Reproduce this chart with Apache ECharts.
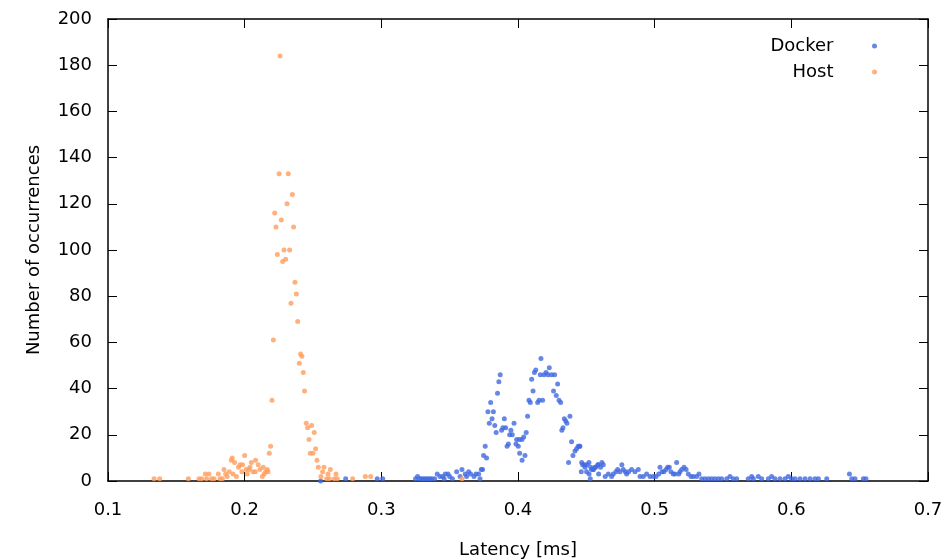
<!DOCTYPE html>
<html><head><meta charset="utf-8">
<script src="https://cdn.jsdelivr.net/npm/echarts@6/dist/echarts.min.js"></script>
<style>html,body{margin:0;padding:0;background:#fff}#c{width:949px;height:560px}</style>
</head><body><div id="c"></div>
<script>
const seriesNames = ['Docker', 'Host'];
const xTicks = [0.1, 0.2, 0.3, 0.4, 0.5, 0.6, 0.7];
const yTicks = [0, 20, 40, 60, 80, 100, 120, 140, 160, 180, 200];

const hostData = [
[0.1337,1],[0.1378,1],[0.1588,1],[0.1666,1],[0.1685,1],[0.1712,3],[0.1721,1],[0.1739,3],[0.1758,1],[0.1776,1],
[0.1807,3],[0.1820,1],[0.1837,1],[0.1849,5],[0.1861,3],[0.1872,2],[0.1887,4],[0.1902,9],[0.1909,10],[0.1915,3],
[0.1926,8],[0.1939,2],[0.1955,6],[0.1966,7],[0.198,4],[0.1985,7],[0.2,11],[0.2011,5],[0.2019,3],[0.2032,5],
[0.2039,6],[0.2049,8],[0.2061,4],[0.2078,4],[0.208,9],[0.2099,7],[0.2112,5],[0.2129,2],[0.2136,6],[0.2143,3],
[0.2154,4],[0.2166,5],[0.2171,4],[0.218,12],[0.219,15],[0.22,35],[0.221,61],[0.222,116],[0.2229,110],[0.2239,98],
[0.2252,133],[0.2259,184],[0.2268,113],[0.2278,95],[0.2288,100],[0.23,96],[0.231,120],[0.2319,133],[0.2329,100],[0.2339,77],
[0.2349,124],[0.2358,110],[0.2368,86],[0.2378,81],[0.2388,69],[0.24,51],[0.2409,55],[0.2419,54],[0.2429,47],[0.2438,39],
[0.2451,25],[0.2461,23],[0.2471,18],[0.248,12],[0.249,24],[0.25,12],[0.2509,21],[0.2519,14],[0.2529,9],[0.2539,6],
[0.2558,2],[0.257,4],[0.258,6],[0.26,1],[0.261,3],[0.2619,1],[0.2627,5],[0.2656,1],[0.2668,3],[0.2678,1],
[0.279,1],[0.2883,2],[0.2922,2],[0.359,1]
];

const dockerData = [
[0.2556,0],[0.2739,1],[0.297,1],[0.301,1],
[0.325,1],[0.3265,2],[0.328,1],[0.3295,1],[0.331,1],[0.3325,1],[0.334,1],[0.3355,1],[0.337,1],[0.339,1],
[0.3409,3],[0.3429,2],[0.3449,2],[0.3468,3],[0.3488,3],[0.35,2],[0.346,1],[0.352,1],
[0.3551,4],[0.3576,2],[0.359,5],[0.3614,3],[0.3624,2],[0.3639,4],[0.3653,3],[0.3678,2],[0.3692,3],[0.3712,3],[0.3722,1],[0.3731,5],[0.3741,5],
[0.3748,11],[0.376,15],[0.377,10],[0.378,30],[0.379,25],[0.38,34],[0.381,27],[0.382,30],[0.383,24],[0.384,21],
[0.385,38],[0.386,43],[0.387,46],[0.388,22],[0.389,23],[0.39,27],[0.391,23],[0.392,15],[0.393,16],
[0.3939,20],[0.3948,22],[0.3958,20],[0.3971,25],[0.3985,16],[0.399,18],[0.4002,15],[0.401,18],[0.4012,12],[0.4029,18],[0.403,9],[0.4042,19],[0.4051,11],
[0.406,21],[0.407,28],[0.408,35],[0.409,34],[0.41,44],[0.411,39],[0.412,47],[0.413,48],[0.4144,34],[0.4154,35],[0.4163,46],[0.4168,53],[0.418,35],
[0.419,46],[0.4205,47],[0.422,46],[0.4229,49],[0.4246,46],[0.426,39],[0.4268,46],[0.428,37],[0.429,42],[0.43,35],[0.4312,34],
[0.4321,22],[0.4329,23],[0.4339,27],[0.4349,26],[0.4358,25],[0.437,8],[0.438,28],[0.4392,17],[0.4402,11],[0.4417,13],[0.4429,14],[0.444,15],[0.445,15],
[0.4453,15],[0.4463,4],[0.4466,8],[0.4473,7],[0.4487,7],[0.449,6],[0.4502,4],[0.4506,7],[0.4519,8],[0.452,3],[0.4529,1],[0.4533,6],[0.4538,5],[0.455,5],[0.4552,5],
[0.4565,6],[0.4567,6],[0.4585,7],[0.4586,7],[0.459,3],[0.4604,6],[0.4614,8],[0.4624,7],
[0.4638,2],[0.4661,3],[0.4685,2],[0.4697,3],[0.4717,4],[0.4729,5],[0.4746,4],[0.476,7],[0.477,5],[0.4785,4],[0.4795,3],[0.481,4],[0.4831,5],[0.4856,4],[0.488,5],
[0.4893,2],[0.4917,2],[0.4941,3],[0.4966,2],[0.499,2],[0.501,2],[0.503,3],[0.5039,6],[0.5054,4],[0.5068,4],[0.5083,5],[0.5095,6],[0.5107,6],[0.5119,4],[0.5136,3],
[0.5149,3],[0.5161,8],[0.5176,3],[0.5185,4],[0.5198,5],[0.5215,6],[0.523,5],[0.5246,3],[0.5266,2],[0.5283,2],[0.5307,2],[0.5324,3],[0.5344,1],[0.5368,1],[0.5393,1],
[0.5417,1],[0.5441,1],[0.5466,1],[0.549,1],[0.5527,1],[0.5551,2],[0.5575,1],[0.56,1],[0.5685,1],[0.571,2],[0.5722,1],[0.5758,2],[0.5783,1],[0.5832,1],[0.5856,2],
[0.588,1],[0.5917,1],[0.5954,1],[0.5978,2],[0.6002,1],[0.6027,1],[0.6063,1],[0.61,1],[0.6137,1],[0.6173,1],[0.6198,1],[0.6259,1],[0.6425,3],[0.6442,1],[0.6466,1],[0.6527,1],[0.6546,1]
];

const colors = {Docker: '#4169e1', Host: '#ff9d5c'};
const FONT = 'DejaVu Sans';
const FS = 18;
const chart = echarts.init(document.getElementById('c'), null, {renderer: 'canvas'});

function axisCommon() {
  return {
    axisLine: {show: true, onZero: false, lineStyle: {color: '#000', width: 1.5}},
    axisTick: {show: true, inside: true, length: 9, lineStyle: {color: '#000', width: 1}},
    splitLine: {show: false},
    axisLabel: {color: '#000', fontFamily: FONT, fontSize: FS}
  };
}

chart.setOption({
  animation: false,
  backgroundColor: '#fff',
  grid: {left: 108, right: 21, top: 19, bottom: 79, containLabel: false, outerBoundsMode: 'none'},
  legend: {
    right: 67, top: 32, orient: 'vertical', align: 'right', itemGap: 8,
    itemWidth: 10, itemHeight: 5, padding: 5,
    textStyle: {fontFamily: FONT, fontSize: FS, color: '#000', padding: [0, 31, 0, 0]},
    data: seriesNames.map(n => ({name: n, icon: 'circle'}))
  },
  xAxis: [
    Object.assign(axisCommon(), {
      type: 'value', min: xTicks[0], max: xTicks[xTicks.length - 1], interval: 0.1,
      name: 'Latency [ms]', nameLocation: 'middle', nameGap: 60,
      nameTextStyle: {fontFamily: FONT, fontSize: FS, color: '#000'},
      axisLabel: {color: '#000', fontFamily: FONT, fontSize: FS, margin: 20, formatter: v => String(+v.toFixed(1))}
    }),
    Object.assign(axisCommon(), {
      type: 'value', position: 'top', min: xTicks[0], max: xTicks[xTicks.length - 1], interval: 0.1,
      axisLabel: {show: false}
    })
  ],
  yAxis: [
    Object.assign(axisCommon(), {
      type: 'value', min: yTicks[0], max: yTicks[yTicks.length - 1], interval: 20,
      name: 'Number of occurrences', nameLocation: 'middle', nameGap: 65, nameRotate: 90,
      nameTextStyle: {fontFamily: FONT, fontSize: FS, color: '#000'},
      axisLabel: {color: '#000', fontFamily: FONT, fontSize: FS, margin: 16}
    }),
    Object.assign(axisCommon(), {
      type: 'value', position: 'right', min: yTicks[0], max: yTicks[yTicks.length - 1], interval: 20,
      axisLabel: {show: false}
    })
  ],
  series: [
    {name: 'Docker', type: 'scatter', data: dockerData, symbolSize: 5,
     itemStyle: {color: colors.Docker}},
    {name: 'Host', type: 'scatter', data: hostData, symbolSize: 5,
     itemStyle: {color: colors.Host}}
  ]
});
</script></body></html>
